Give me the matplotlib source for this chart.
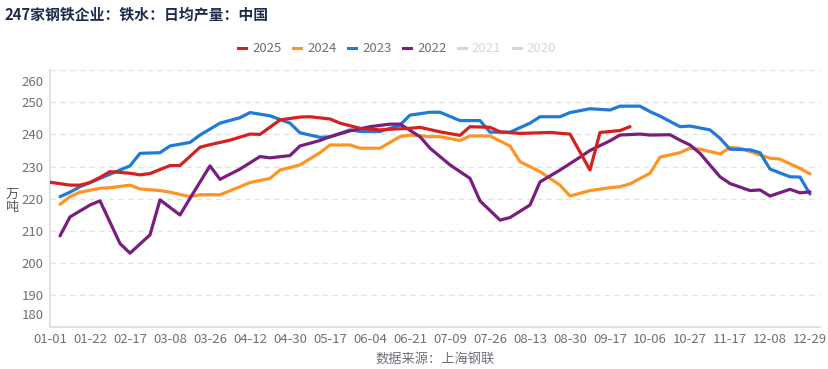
import matplotlib
matplotlib.use("Agg")
import matplotlib.pyplot as plt
from matplotlib.lines import Line2D

plt.rcParams['font.family'] = ['Noto Sans CJK SC', 'DejaVu Sans']

N = None
categories = [
    "01-01", "01-05", "01-10", "01-15",
    "01-22", "01-27", "02-03", "02-10",
    "02-17", "02-22", "02-27", "03-03",
    "03-08", "03-13", "03-17", "03-22",
    "03-26", "03-31", "04-04", "04-08",
    "04-12", "04-17", "04-21", "04-26",
    "04-30", "05-05", "05-09", "05-13",
    "05-17", "05-22", "05-26", "05-31",
    "06-04", "06-08", "06-13", "06-17",
    "06-21", "06-26", "06-30", "07-05",
    "07-09", "07-13", "07-18", "07-22",
    "07-26", "07-31", "08-04", "08-09",
    "08-13", "08-18", "08-22", "08-26",
    "08-30", "09-04", "09-08", "09-13",
    "09-17", "09-22", "09-26", "10-01",
    "10-06", "10-11", "10-16", "10-22",
    "10-27", "11-01", "11-06", "11-12",
    "11-17", "11-22", "11-27", "12-03",
    "12-08", "12-13", "12-18", "12-24",
    "12-29", "12-31",
]

v2025 = [
    225.1, N, 224.2, 224.2,
    225.0, 226.6, 228.4, N,
    227.9, 227.4, 227.8, N,
    230.3, 230.3, N, 236.0,
    236.8, N, 238.2, N,
    240.1, 240.0, N, 244.5,
    N, 245.4, 245.5, N,
    244.8, 243.5, N, 241.9,
    N, 241.4, 241.6, N,
    241.9, 242.2, N, 240.8,
    N, 239.7, 242.4, N,
    242.2, 240.8, N, 240.3,
    N, 240.5, 240.6, N,
    240.1, N, 228.9, 240.6,
    N, 241.2, 242.4, N,
    N, N, N, N,
    N, N, N, N,
    N, N, N, N,
    N, N, N, N,
    N, N,
]

v2024 = [
    N, 218.2, 220.6, 222.0,
    N, 223.2, 223.4, N,
    224.2, 223.0, N, 222.5,
    222.0, N, 220.6, 221.2,
    N, 221.2, N, 223.7,
    225.0, N, 226.3, 228.9,
    N, 230.5, N, 234.3,
    236.7, N, 236.7, 235.7,
    N, 235.7, N, 239.3,
    239.8, N, 239.3, 239.3,
    N, 238.1, 239.5, N,
    239.5, N, 236.4, 231.5,
    N, 228.4, N, 224.2,
    220.8, N, 222.5, N,
    223.4, 223.7, 224.6, N,
    227.9, 232.9, N, 234.3,
    235.7, 235.4, N, 233.9,
    235.9, 235.7, N, 233.6,
    232.6, 232.3, N, 229.4,
    227.7, N,
]

v2023 = [
    N, 220.6, 222.0, 223.7,
    N, 226.3, 227.6, N,
    230.2, 234.1, N, 234.3,
    236.4, N, 237.5, 239.8,
    N, 243.5, N, 245.2,
    246.8, N, 245.8, N,
    243.5, 240.5, N, 239.1,
    239.2, N, 241.4, 240.9,
    N, 240.9, N, 242.9,
    246.0, N, 246.9, 246.9,
    N, 244.3, N, 244.3,
    240.7, N, 240.7, N,
    243.5, 245.5, N, 245.5,
    246.8, N, 248.0, N,
    247.6, 248.8, N, 248.8,
    247.1, 245.7, N, 242.4,
    242.6, N, 241.4, 238.8,
    235.4, N, 235.2, 234.3,
    229.2, N, 226.8, 226.7,
    221.4, N,
]

v2022 = [
    N, 208.4, 214.3, N,
    218.0, 219.3, N, 206.0,
    203.0, N, 208.7, 219.6,
    N, 214.9, 220.1, N,
    230.2, 226.0, N, 229.2,
    N, 233.1, 232.7, N,
    233.4, 236.4, N, 238.1,
    239.3, N, 241.1, N,
    242.4, N, 243.2, 243.2,
    N, 239.3, 235.7, N,
    230.5, N, 226.3, 219.3,
    N, 213.3, 214.1, N,
    218.0, 225.2, N, 228.9,
    N, 232.9, 235.0, N,
    238.0, 239.8, N, 240.1,
    239.8, N, 239.9, 238.2,
    236.7, 234.1, N, 226.8,
    224.7, N, 222.5, 222.7,
    220.8, N, 222.9, 221.8,
    222.1, N,
]

series_names = ["2025", "2024", "2023", "2022", "2021", "2020"]
series_values = {"2025": v2025, "2024": v2024, "2023": v2023, "2022": v2022}
colors = {"2025": "#d61f1f", "2024": "#fd9426", "2023": "#1f7bd6", "2022": "#781e7e"}
hidden_color = "#d3d6dc"

tick_step = 4
y_min, y_max, y_step = 180, 260, 10
title = "247家钢铁企业：铁水：日均产量：中国"
y_unit = "万\n吨"
source = "数据来源：上海钢联"

W, H = 829, 369
fig = plt.figure(figsize=(W / 100, H / 100), dpi=100)
ax = fig.add_axes([50 / W, 1 - 327 / H, (820 - 50) / W, (327 - 70.2) / H])

zorders = {"2025": 6, "2024": 3, "2023": 4, "2022": 5}
for name in ["2022", "2023", "2024", "2025"]:
    vals = series_values[name]
    xs = [i for i, v in enumerate(vals) if v is not None]
    ys = [v for v in vals if v is not None]
    ax.plot(xs, ys, color=colors[name], lw=2.3, solid_joinstyle="round",
            solid_capstyle="round", zorder=zorders[name])

ax.set_xlim(0, len(categories) - 1)
ax.set_ylim(y_min, y_max)
xt = list(range(0, len(categories), tick_step))
ax.set_xticks(xt)
ax.set_xticklabels([categories[i] for i in xt])
yt = list(range(y_min, y_max + 1, y_step))
ax.set_yticks(yt)
ax.set_yticklabels([str(v) if (v != y_min and v != y_max) else "" for v in yt])
ax.tick_params(axis="both", length=0, colors="#6e7079", labelsize=9.5)
ax.tick_params(axis="x", pad=4.5)
ax.tick_params(axis="y", pad=4.5)

# edge labels nudged inward
ax.annotate(str(y_max), xy=(0, y_max), xycoords=("axes fraction", "data"),
            xytext=(-4.5, -8.5), textcoords="offset points", ha="right", va="center",
            color="#6e7079", fontsize=9.5)
ax.annotate(str(y_min), xy=(0, y_min), xycoords=("axes fraction", "data"),
            xytext=(-4.5, 8.5), textcoords="offset points", ha="right", va="center",
            color="#6e7079", fontsize=9.5)

ax.grid(axis="y", color="#e3e3e3", lw=1, ls=(0, (4, 3)))
ax.grid(axis="x", visible=False)
for s in ["top", "right"]:
    ax.spines[s].set_visible(False)
for s in ["left", "bottom"]:
    ax.spines[s].set_color("#dcdcdc")
    ax.spines[s].set_linewidth(1.2)
ax.set_axisbelow(True)

fig.text(5 / W, 1 - 14 / H, title, fontsize=10.7, fontweight="bold",
         color="#1d2b4d", ha="left", va="center")
fig.text(12 / W, 1 - 201 / H, y_unit, fontsize=9.5, color="#5a5a5a",
         ha="center", va="center", linespacing=0.95)
fig.text(435 / W, 1 - 360 / H, source, fontsize=9.5, color="#6e7079",
         ha="center", va="center")

handles = []
for name in series_names:
    c = colors.get(name, hidden_color)
    handles.append(Line2D([], [], color=c, lw=2.2))
leg = fig.legend(handles, series_names, loc="center", bbox_to_anchor=(397 / W, 1 - 49 / H),
                 ncol=6, frameon=False, handlelength=0.62, handletextpad=0.47,
                 columnspacing=0.85, fontsize=9.5)
for name, txt in zip(series_names, leg.get_texts()):
    txt.set_color("#6e7079" if name in colors else hidden_color)

fig.savefig("out.png", dpi=100, facecolor="white")
